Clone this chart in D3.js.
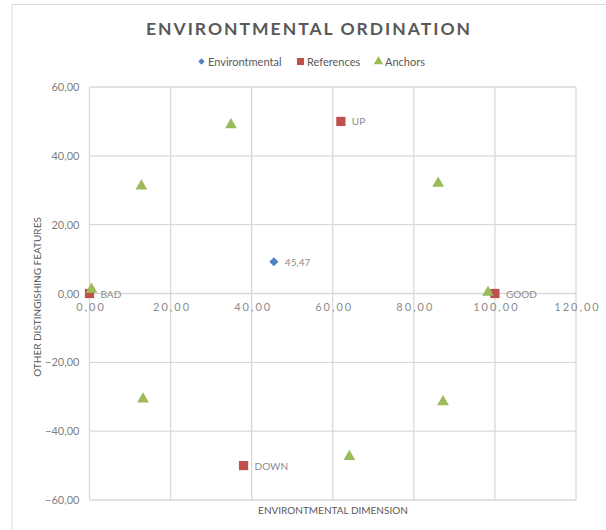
<!DOCTYPE html>
<html><head><meta charset="utf-8">
<script src="https://cdn.jsdelivr.net/npm/d3@7"></script>
<style>
body{margin:0;background:#fff;}
text{font-family:Lato,"Open Sans",sans-serif;}
</style></head>
<body><svg id="c" width="606" height="530"></svg>
<script>
const title = "ENVIRONTMENTAL ORDINATION";
const xLabel = "ENVIRONTMENTAL DIMENSION";
const yLabel = "OTHER DISTINGISHING FEATURES";
const seriesNames = ["Environtmental", "References", "Anchors"];
const seriesColors = ["#4f81bd", "#c0504d", "#9bbb59"];
const xTicks = [0, 20, 40, 60, 80, 100, 120];
const yTicks = [-60, -40, -20, 0, 20, 40, 60];

const envX = [45.47];
const envY = [9.2];
const envLabels = ["45,47"];

const refX = [0, 100, 62, 38];
const refY = [0, 0, 50, -50];
const refLabels = ["BAD", "GOOD", "UP", "DOWN"];

const anchX = [0.5, 12.8, 34.9, 86.0, 98.3, 13.2, 87.2, 64.1];
const anchY = [1.2, 31.2, 49.0, 32.0, 0.3, -30.7, -31.5, -47.4];

const svg = d3.select("#c");
const x = d3.scaleLinear().domain([0, 120]).range([89.5, 576]);
const y = d3.scaleLinear().domain([-60, 60]).range([500, 87]);
const fmt = v => d3.format(".2f")(v).replace(".", ",");

// outer chart border
svg.append("path").attr("d", "M12,530 V4.5 H606").attr("fill", "none").attr("stroke", "#d9d9d9").attr("stroke-width", 1);

// gridlines
const g = svg.append("g");
g.selectAll("line.v").data(xTicks).join("line")
  .attr("x1", d => x(d)).attr("x2", d => x(d)).attr("y1", y(60)).attr("y2", y(-60))
  .attr("stroke", "#d9d9d9").attr("stroke-width", 1.3);
g.selectAll("line.h").data(yTicks).join("line")
  .attr("y1", d => y(d)).attr("y2", d => y(d)).attr("x1", x(0)).attr("x2", x(120))
  .attr("stroke", "#d9d9d9").attr("stroke-width", 1.3);

// axes
const xAxis = svg.append("g").attr("transform", `translate(0,${y(0)})`)
  .call(d3.axisBottom(x).tickValues(xTicks).tickFormat(fmt).tickSize(0).tickPadding(10));
xAxis.select(".domain").remove();
xAxis.selectAll("text").attr("fill", "#8c8c8c").attr("font-size", 11).attr("letter-spacing", "2px").attr("dx", "1px");

const yAxis = svg.append("g").attr("transform", `translate(${x(0)},0)`)
  .call(d3.axisLeft(y).tickValues(yTicks).tickFormat(fmt).tickSize(0).tickPadding(10));
yAxis.select(".domain").remove();
yAxis.selectAll("text").attr("fill", "#7f7f7f").attr("font-size", 11);

// title
svg.append("text").attr("x", 309).attr("y", 35).attr("text-anchor", "middle")
  .attr("font-size", 17.5).attr("font-weight", "bold").attr("letter-spacing", "2px")
  .attr("fill", "#595959").text(title);

// legend
const sym = [d3.symbolDiamond2, d3.symbolSquare, d3.symbolTriangle];
const symSize = [52, 85, 60];
const legSize = [26, 50, 38];
const legX = [201.5, 300.5, 378.5];
const leg = svg.append("g");
seriesNames.forEach((n, i) => {
  leg.append("path").attr("d", d3.symbol(sym[i], legSize[i])())
    .attr("transform", `translate(${legX[i]},61.5)`).attr("fill", seriesColors[i]);
  leg.append("text").attr("x", legX[i] + 6.5).attr("y", 65.5).attr("font-size", 11)
    .attr("fill", "#595959").text(n);
});

// axis titles
svg.append("text").attr("x", 333).attr("y", 514).attr("text-anchor", "middle")
  .attr("font-size", 10).attr("fill", "#595959").text(xLabel);
svg.append("text").attr("transform", `translate(41,297) rotate(-90)`).attr("text-anchor", "middle")
  .attr("font-size", 10).attr("fill", "#595959").text(yLabel);

// points
function drawSeries(xs, ys, i, labels) {
  const pts = xs.map((v, k) => ({x: v, y: ys[k], l: labels ? labels[k] : null}));
  const gg = svg.append("g");
  gg.selectAll("path").data(pts).join("path")
    .attr("d", d3.symbol(sym[i], symSize[i])())
    .attr("transform", d => `translate(${x(d.x)},${y(d.y)})`)
    .attr("fill", seriesColors[i]);
  if (labels) {
    gg.selectAll("text").data(pts).join("text")
      .attr("x", d => x(d.x) + 11).attr("y", d => y(d.y) + 4)
      .attr("font-size", 10).attr("fill", "#8c8c8c").text(d => d.l);
  }
}
drawSeries(refX, refY, 1, refLabels);
drawSeries(anchX, anchY, 2, null);
drawSeries(envX, envY, 0, envLabels);
</script></body></html>
